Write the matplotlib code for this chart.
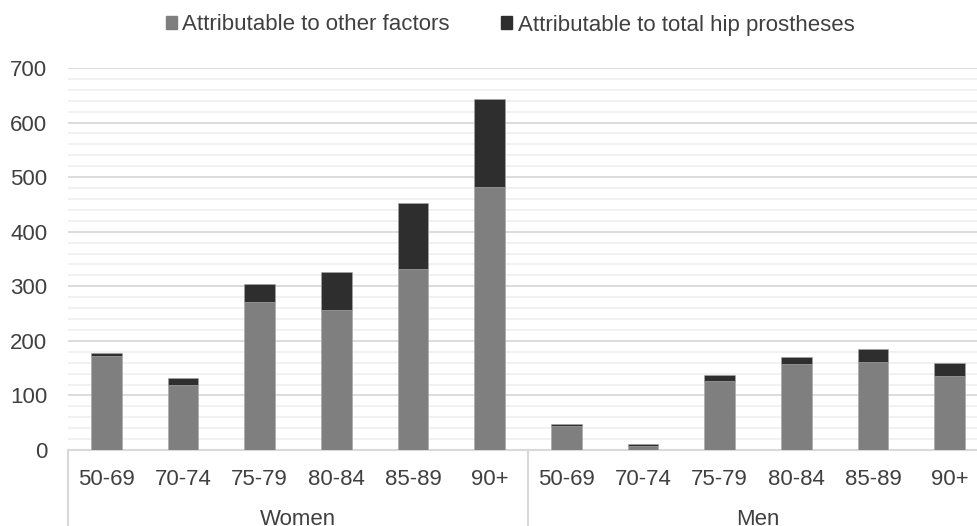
import matplotlib.pyplot as plt
import numpy as np
from matplotlib.patches import Patch

plt.rcParams["font.family"] = ["Liberation Sans", "DejaVu Sans"]

age_groups = ["50-69", "70-74", "75-79", "80-84", "85-89", "90+"]
sexes = ["Women", "Men"]
other_women = [172, 120, 271, 257, 331, 482]
hip_women = [5, 12, 33, 70, 121, 162]
other_men = [44, 8, 126, 157, 161, 136]
hip_men = [3, 3.5, 11, 14, 24, 23]

other = other_women + other_men
hip = hip_women + hip_men
labels = age_groups + age_groups
x = np.arange(len(labels))

TEXT = "#404040"
GRAY = "#7f7f7f"
DARK = "#2e2e2e"
FS = 16

fig = plt.figure(figsize=(9.77, 5.26), dpi=100)
ax = fig.add_axes([68 / 977, 76 / 526, 920 / 977, 382 / 526])

ax.bar(x, other, width=0.4, color=GRAY, edgecolor="#a6a6a6", linewidth=0.4, zorder=3)
ax.bar(x, hip, width=0.4, bottom=other, color=DARK, edgecolor="#a6a6a6", linewidth=0.4, zorder=3)

ax.set_xlim(-0.5, 11.5)
ax.set_ylim(0, 700)
ax.set_yticks(np.arange(0, 701, 100))
ax.set_yticks(np.arange(0, 701, 20), minor=True)
ax.grid(axis="y", which="major", color="#d9d9d9", linewidth=1.3, zorder=0)
ax.grid(axis="y", which="minor", color="#f0f0f0", linewidth=1.3, zorder=0)
ax.tick_params(axis="y", which="both", length=0, pad=15, labelsize=FS, labelcolor=TEXT)

ax.set_xticks(x)
ax.set_xticklabels(labels)
ax.tick_params(axis="x", length=0, pad=13.5, labelsize=FS, labelcolor=TEXT)

for side in ["left", "right", "top"]:
    ax.spines[side].set_visible(False)
ax.spines["bottom"].set_color("#d9d9d9")
ax.spines["bottom"].set_linewidth(1.5)

# group separators and group labels below the axis
trans = ax.get_xaxis_transform()
for xs in [-0.5, 5.5]:
    ax.plot([xs, xs], [0, -0.25], transform=trans, color="#d9d9d9", linewidth=1.5, clip_on=False)
for i, name in enumerate(sexes):
    ax.text(i * 6 + 2.5, -0.183, name, transform=trans, ha="center", va="center",
            fontsize=FS, color=TEXT)

handles = [Patch(color=GRAY, label="Attributable to other factors"),
           Patch(color=DARK, label="Attributable to total hip prostheses")]
fig.legend(handles=handles, loc="center", bbox_to_anchor=(510 / 977, 1 - 25 / 526), ncol=2,
           frameon=False, fontsize=FS, labelcolor=TEXT, handlelength=0.5, handleheight=0.5,
           handletextpad=0.25, columnspacing=2.3)

fig.savefig("out.png", dpi=100)
